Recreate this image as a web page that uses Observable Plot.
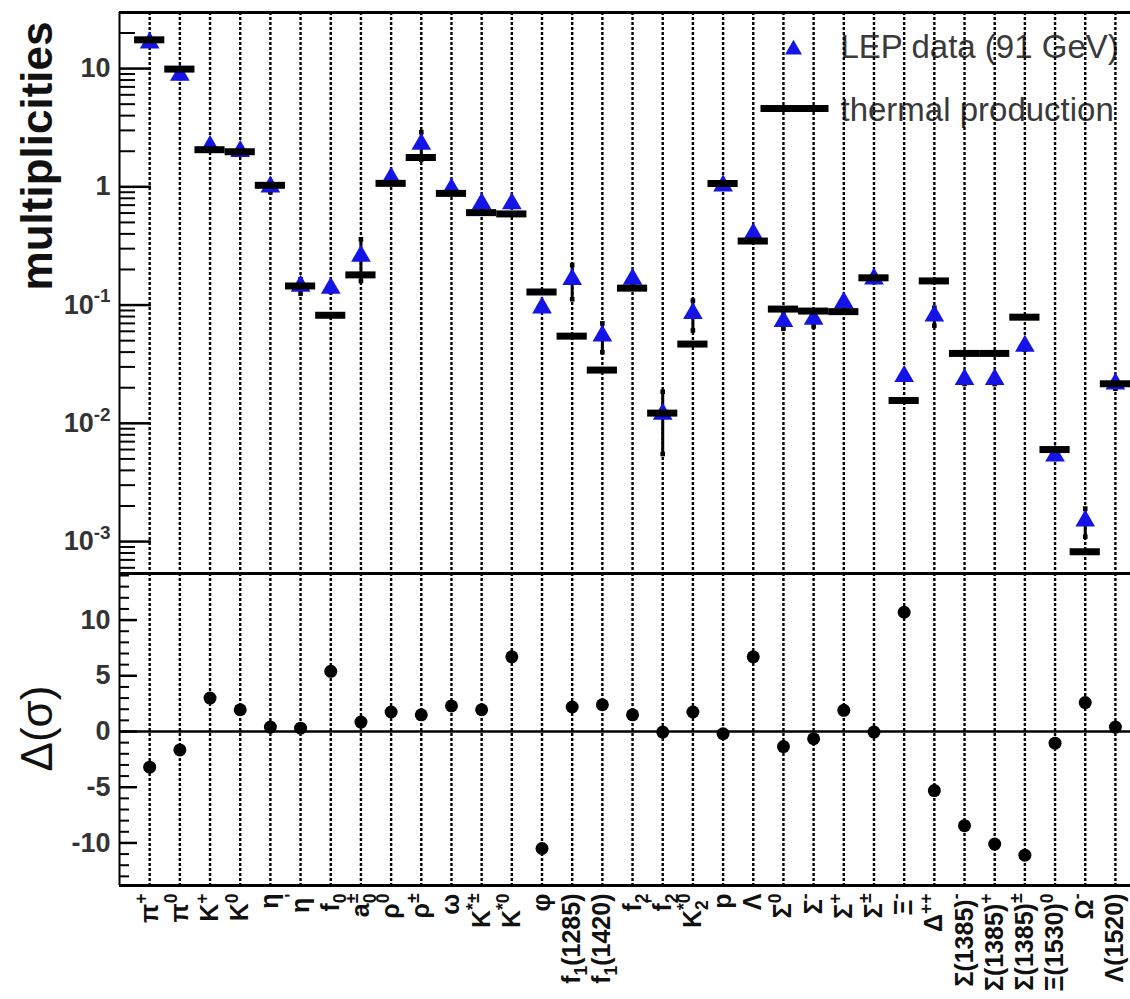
<!DOCTYPE html>
<html><head><meta charset="utf-8">
<script src="https://cdn.jsdelivr.net/npm/d3@7"></script>
<script src="https://cdn.jsdelivr.net/npm/@observablehq/plot@0.6"></script>
<style>
html,body{margin:0;padding:0;background:#fff;overflow:hidden}
#chart svg{display:block}
</style></head><body><div id="chart"></div>
<script>
// ---- data ----
const categories = ["π^{+}","π^{0}","K^{+}","K^{0}","η","η^{'}","f_{0}","a_{0}^{±}","ρ^{0}","ρ^{±}","ω","K^{*±}","K^{*0}","φ","f_{1}(1285)","f_{1}(1420)","f_{2}","f_{2}^{'}","K_{2}^{*0}","p","Λ","Σ^{0}","Σ^{-}","Σ^{+}","Σ^{±}","Ξ^{-}","Δ^{++}","Σ(1385)^{-}","Σ(1385)^{+}","Σ(1385)^{±}","Ξ(1530)^{0}","Ω^{-}","Λ(1520)"];
const thermal = [17.5, 9.9, 2.06, 1.98, 1.03, 0.145, 0.082, 0.18, 1.07, 1.77, 0.88, 0.605, 0.59, 0.129, 0.0546, 0.0282, 0.139, 0.0122, 0.0468, 1.067, 0.348, 0.0925, 0.089, 0.088, 0.17, 0.0156, 0.16, 0.039, 0.039, 0.079, 0.006, 0.00082, 0.0216];
const lepData = [16.5, 8.8, 2.2, 2.0, 1.0, 0.145, 0.139, 0.26, 1.19, 2.3, 0.96, 0.72, 0.72, 0.095, 0.165, 0.055, 0.166, 0.012, 0.085, 1.02, 0.40, 0.073, 0.076, 0.105, 0.167, 0.025, 0.081, 0.0235, 0.0235, 0.045, 0.0053, 0.0015, 0.0216];
const lepErr = [0.3, 0.5, 0.05, 0.03, 0.1, 0.02, 0.01, 0.1, 0.1, 0.6, 0.05, 0.05, 0.03, 0.005, 0.053, 0.015, 0.015, 0.0065, 0.024, 0.05, 0.01, 0.01, 0.01, 0.01, 0.01, 0.001, 0.014, 0.002, 0.002, 0.003, 0.0003, 0.0004, 0.002];
const deltaSigma = [-3.2, -1.65, 3.0, 1.95, 0.4, 0.3, 5.4, 0.85, 1.75, 1.5, 2.3, 1.95, 6.7, -10.5, 2.2, 2.4, 1.5, -0.05, 1.75, -0.2, 6.7, -1.35, -0.65, 1.9, -0.05, 10.7, -5.3, -8.45, -10.1, -11.1, -1.05, 2.6, 0.4];
const topTickValues = [1e-3, 1e-2, 1e-1, 1, 10];
const topTickLabels = ["10^{-3}", "10^{-2}", "10^{-1}", "1", "10"];
const bottomTickValues = [-10, -5, 0, 5, 10];
const legendLabels = ["LEP data (91 GeV)", "thermal production"];
const yLabelTop = "multiplicities";
const yLabelBottom = "Δ(σ)";

// ---- derived table ----
const rows = categories.map((c, k) => ({
  i: k + 1, name: c, thermal: thermal[k], data: lepData[k],
  lo: lepData[k] - lepErr[k], hi: lepData[k] + lepErr[k], delta: deltaSigma[k]
}));
const idx = rows.map(d => d.i);

const W = 1130, ML = 119, MR = 0;
const innerW = W - ML - MR;
const xDomain = [0, 33.5];
const topDomain = [5.37e-4, 29.8];
const botDomain = [-13.82, 14.18];
const FONT = "'Liberation Sans', Arial, Helvetica, sans-serif";
const BLUE = "#1414e6";

const logMajor = [], logMinor = [];
for (let e = -4; e <= 1; e++) for (let m = 1; m <= 9; m++) {
  const v = m * Math.pow(10, e);
  if (v >= topDomain[0] && v <= topDomain[1]) (m === 1 ? logMajor : logMinor).push(v);
}
const linMinor = d3.range(-13, 15).filter(v => v % 5 !== 0);

const dashed = {x: d => d, stroke: "#000", strokeWidth: 2.4, strokeDasharray: "3,2"};
const barSymbol = {draw(ctx) { ctx.moveTo(-34, -3.5); ctx.lineTo(34, -3.5); ctx.lineTo(34, 3.5); ctx.lineTo(-34, 3.5); ctx.closePath(); }};

const topPlot = Plot.plot({
  width: W, height: 573, marginLeft: ML, marginRight: MR, marginTop: 12, marginBottom: 0,
  style: {fontFamily: FONT, background: "#fff"},
  x: {domain: xDomain, axis: null},
  y: {type: "log", domain: topDomain, axis: null},
  marks: [
    Plot.text([legendLabels[0]], {frameAnchor: "top-left", dx: 721, dy: 35, textAnchor: "start", lineAnchor: "middle", fontSize: 33, fill: "#3a3a3a"}),
    Plot.text([legendLabels[1]], {frameAnchor: "top-left", dx: 721, dy: 98, textAnchor: "start", lineAnchor: "middle", fontSize: 33, fill: "#3a3a3a"}),
    Plot.ruleX(idx, dashed),
    Plot.tickY(logMinor, {y: d => d, insetRight: innerW - 16, strokeWidth: 2}),
    Plot.tickY(logMajor, {y: d => d, insetRight: innerW - 32, strokeWidth: 2.5}),
    Plot.ruleY([topDomain[1]], {strokeWidth: 3}),
    Plot.ruleY([topDomain[0]], {strokeWidth: 3}),
    Plot.ruleX([xDomain[0]], {strokeWidth: 2}),
    Plot.ruleX(rows, {x: "i", y1: "lo", y2: "hi", strokeWidth: 3}),
    Plot.dot(rows, {x: "i", y: "hi", symbol: "square", r: 2.6, fill: "#000"}),
    Plot.dot(rows, {x: "i", y: "lo", symbol: "square", r: 2.6, fill: "#000"}),
    Plot.dot(rows, {x: "i", y: "data", symbol: "triangle", r: 7.3, fill: BLUE}),
    Plot.ruleY(rows, {y: "thermal", x1: d => d.i - 0.5, x2: d => d.i + 0.5, strokeWidth: 7}),
    Plot.dot([0], {frameAnchor: "top-left", dx: 674, dy: 37, symbol: "triangle", r: 6.3, fill: BLUE}),
    Plot.dot([0], {frameAnchor: "top-left", dx: 675, dy: 96, symbol: barSymbol, r: 5, fill: "#000"}),
    Plot.axisY({ticks: topTickValues, anchor: "left", tickSize: 0, tickPadding: 9, label: null,
      tickFormat: d => topTickLabels[topTickValues.indexOf(d)], fontSize: 27, fontWeight: "bold", fill: "#333"}),
    Plot.text([yLabelTop], {frameAnchor: "left", dx: -82, dy: -137, rotate: -90, textAnchor: "middle", lineAnchor: "middle", fontSize: 44, fontWeight: "bold", fill: "#111"})
  ]
});

const botPlot = Plot.plot({
  width: W, height: 426, marginLeft: ML, marginRight: MR, marginTop: 0, marginBottom: 114,
  style: {fontFamily: FONT, background: "#fff"},
  x: {domain: xDomain, axis: null},
  y: {domain: botDomain, axis: null},
  marks: [
    Plot.ruleX(idx, dashed),
    Plot.tickY(linMinor, {y: d => d, insetRight: innerW - 10, strokeWidth: 2}),
    Plot.tickY(bottomTickValues, {y: d => d, insetRight: innerW - 18, strokeWidth: 2.5}),
    Plot.ruleY([0], {strokeWidth: 2.5}),
    Plot.ruleY([botDomain[1]], {strokeWidth: 3}),
    Plot.ruleY([botDomain[0]], {strokeWidth: 3}),
    Plot.ruleX([xDomain[0]], {strokeWidth: 2}),
    Plot.dot(rows, {x: "i", y: "delta", r: 6.5, fill: "#000"}),
    Plot.axisY({ticks: bottomTickValues, anchor: "left", tickSize: 0, tickPadding: 9, label: null,
      tickFormat: d => String(d), fontSize: 27, fontWeight: "bold", fill: "#333"}),
    Plot.axisX({ticks: idx, anchor: "bottom", tickSize: 0, tickPadding: 8, tickRotate: -90, label: null,
      tickFormat: i => categories[i - 1], fontSize: 25, fontWeight: "bold", fill: "#111"}),
    Plot.text([yLabelBottom], {frameAnchor: "left", dx: -82, dy: -1, rotate: -90, textAnchor: "middle", lineAnchor: "middle", fontSize: 44, fill: "#111"})
  ]
});

function applyMarkup(svg) {
  svg.querySelectorAll("text").forEach(t => {
    const s = t.textContent;
    if (!/[_^]\{/.test(s)) return;
    const holder = t.closest("[font-size]");
    const fs = (holder && parseFloat(holder.getAttribute("font-size"))) || 10;
    const parts = []; const re = /([_^])\{([^}]*)\}/g; let last = 0, m;
    while ((m = re.exec(s))) {
      if (m.index > last) parts.push({k: "n", s: s.slice(last, m.index)});
      parts.push({k: m[1] === "_" ? "sub" : "sup", s: m[2]});
      last = re.lastIndex;
    }
    if (last < s.length) parts.push({k: "n", s: s.slice(last)});
    while (t.firstChild) t.removeChild(t.firstChild);
    let cur = 0, prev = null;
    for (const p of parts) {
      const ts = document.createElementNS("http://www.w3.org/2000/svg", "tspan");
      const target = p.k === "sub" ? 0.28 * fs : p.k === "sup" ? -0.42 * fs : 0;
      if (target !== cur) ts.setAttribute("dy", target - cur);
      cur = target;
      if (p.k !== "n") ts.setAttribute("font-size", 0.7 * fs);
      if (p.k === "sup" && prev && prev.k === "sub") ts.setAttribute("dx", -(prev.s.length * 0.556 * 0.7 * fs));
      ts.textContent = p.s;
      t.appendChild(ts);
      prev = p;
    }
  });
}
applyMarkup(topPlot);
applyMarkup(botPlot);
const host = document.getElementById("chart");
host.appendChild(topPlot);
host.appendChild(botPlot);
</script></body></html>
